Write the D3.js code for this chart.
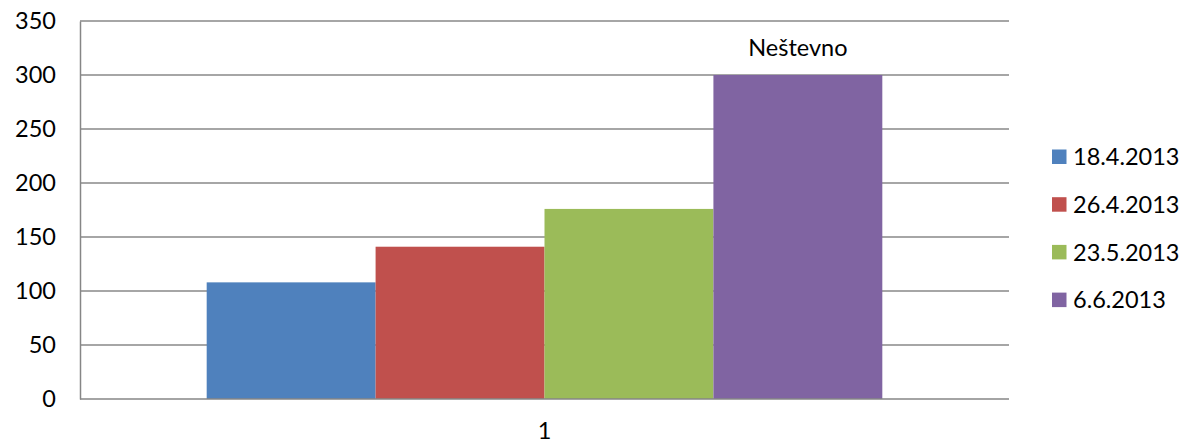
<!DOCTYPE html>
<html>
<head>
<meta charset="utf-8">
<script src="https://cdn.jsdelivr.net/npm/d3@7"></script>
<style>
  html, body { margin: 0; padding: 0; background: #fff; }
  svg { display: block; font-family: Lato, "Open Sans", sans-serif; }
</style>
</head>
<body>
<svg id="chart" width="1201" height="446"></svg>
<script>
// Data
const categories = ["1"];
const seriesNames = ["18.4.2013", "26.4.2013", "23.5.2013", "6.6.2013"];
const seriesValues = [108, 141, 176, 300];
const seriesColors = ["#4F81BD", "#C0504D", "#9BBB59", "#8064A2"];
const barLabels = ["", "", "", "Neštevno"];
const yTicks = [0, 50, 100, 150, 200, 250, 300, 350];

const svg = d3.select("#chart");
const plot = { left: 80, right: 1009, top: 21, bottom: 399 };
const fontSize = 23.5;

const y = d3.scaleLinear().domain([0, 350]).range([plot.bottom, plot.top]);
const x0 = d3.scaleBand().domain(categories).range([plot.left, plot.right])
  .paddingInner(0).paddingOuter(0.1875);
const x1 = d3.scaleBand().domain(seriesNames).range([0, x0.bandwidth()]);

// Gridlines
svg.append("g")
  .selectAll("line")
  .data(yTicks.filter(d => d > 0))
  .join("line")
  .attr("x1", plot.left).attr("x2", plot.right)
  .attr("y1", d => y(d)).attr("y2", d => y(d))
  .attr("stroke", "#898989").attr("stroke-width", 1.5);

// Y axis
const yAxis = svg.append("g")
  .attr("transform", `translate(${plot.left},0)`)
  .call(d3.axisLeft(y).tickValues(yTicks).tickSize(0).tickPadding(24));
yAxis.select(".domain").attr("stroke", "#868686").attr("stroke-width", 1.5);
yAxis.selectAll("text").attr("font-size", fontSize).attr("fill", "#000")
  .attr("font-family", "Lato, 'Open Sans', sans-serif");

// Bars
const groups = svg.append("g")
  .selectAll("g")
  .data(categories)
  .join("g")
  .attr("transform", d => `translate(${x0(d)},0)`);

const barData = seriesNames.map((name, i) => ({
  name, value: seriesValues[i], color: seriesColors[i], label: barLabels[i]
}));

groups.selectAll("rect")
  .data(barData)
  .join("rect")
  .attr("x", d => x1(d.name))
  .attr("y", d => y(d.value))
  .attr("width", x1.bandwidth())
  .attr("height", d => y(0) - y(d.value))
  .attr("fill", d => d.color);

groups.selectAll("text.barlabel")
  .data(barData.filter(d => d.label))
  .join("text")
  .attr("class", "barlabel")
  .attr("x", d => x1(d.name) + x1.bandwidth() / 2)
  .attr("y", d => y(d.value) - 19)
  .attr("text-anchor", "middle")
  .attr("font-size", fontSize)
  .attr("fill", "#000")
  .text(d => d.label);

// X axis
const xAxis = svg.append("g")
  .attr("transform", `translate(0,${plot.bottom})`)
  .call(d3.axisBottom(x0).tickSize(0).tickPadding(23));
xAxis.select(".domain").attr("stroke", "#868686").attr("stroke-width", 1.5)
  .attr("d", `M${plot.left},0H${plot.right}`);
xAxis.selectAll("text").attr("font-size", fontSize).attr("fill", "#000")
  .attr("font-family", "Lato, 'Open Sans', sans-serif");

// Legend
const legend = svg.append("g").attr("transform", "translate(1052,157)");
const items = legend.selectAll("g")
  .data(barData)
  .join("g")
  .attr("transform", (d, i) => `translate(0,${i * 47.7})`);
items.append("rect")
  .attr("x", 0).attr("y", -7.5)
  .attr("width", 14.5).attr("height", 14.5)
  .attr("fill", d => d.color);
items.append("text")
  .attr("x", 21).attr("y", 0)
  .attr("dy", "0.35em")
  .attr("font-size", fontSize)
  .attr("fill", "#000")
  .text(d => d.name);
</script>
</body>
</html>
